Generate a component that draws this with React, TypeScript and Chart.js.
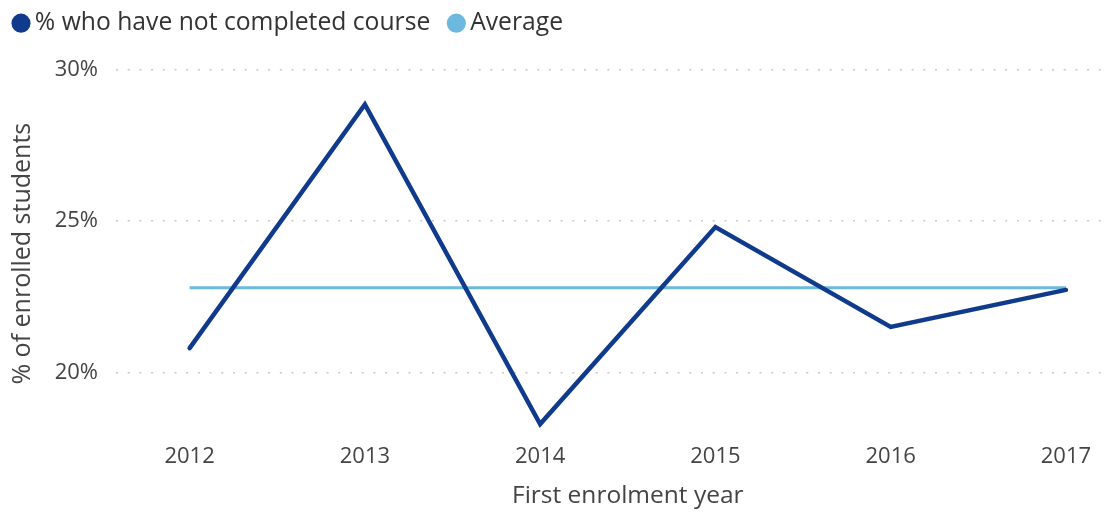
import React, { useEffect, useRef } from "react";
import { Chart, registerables } from "chart.js";

Chart.register(...registerables);

const years = [2012, 2013, 2014, 2015, 2016, 2017];
const notCompleted = [20.81, 28.84, 18.31, 24.8, 21.51, 22.73];
const averageValue = 22.8;
const yTickValues = [20, 25, 30];
const seriesLabels = ["% who have not completed course", "Average"];
const xTitle = "First enrolment year";
const yTitle = "% of enrolled students";

const FONT = "'Open Sans', 'Noto Sans', sans-serif";

export default function App() {
  const ref = useRef<HTMLCanvasElement>(null);

  useEffect(() => {
    document.body.style.margin = "0";
    const canvas = ref.current;
    if (!canvas) return;

    const layoutTweaks = {
      id: "layoutTweaks",
      beforeLayout(chart: any) {
        const lg = chart.legend;
        if (lg && !lg._spacerPatched) {
          const origFit = lg.fit.bind(lg);
          lg.fit = function () {
            origFit();
            this.height = 83;
          };
          lg._spacerPatched = true;
        }
      },
      afterLayout(chart: any) {
        const xs = chart.scales.x;
        if (xs && !xs._titlePatched) {
          const origDrawTitle = xs.drawTitle.bind(xs);
          xs.drawTitle = function () {
            const c =
              (this.getPixelForValue(years[0]) +
                this.getPixelForValue(years[years.length - 1])) /
              2;
            const d = c - (this.left + this.right) / 2;
            const l = this.left;
            const r = this.right;
            this.left = l + d;
            this.right = r + d;
            origDrawTitle();
            this.left = l;
            this.right = r;
          };
          xs._titlePatched = true;
        }
      },
    };

    const chart = new Chart(canvas, {
      type: "line",
      data: {
        datasets: [
          {
            label: seriesLabels[0],
            data: years.map((yr, i) => ({ x: yr, y: notCompleted[i] })),
            borderColor: "#103A8C",
            backgroundColor: "#103A8C",
            borderWidth: 4.5,
            borderCapStyle: "round",
            pointRadius: 0,
            pointHoverRadius: 0,
            tension: 0,
          },
          {
            label: seriesLabels[1],
            data: years.map((yr) => ({ x: yr, y: averageValue })),
            borderColor: "#6CB8DE",
            backgroundColor: "#6CB8DE",
            borderWidth: 3,
            pointRadius: 0,
            pointHoverRadius: 0,
            tension: 0,
          },
        ],
      },
      options: {
        animation: false,
        responsive: false,
        layout: { padding: { top: -13.7, left: -5, right: 4, bottom: 0 } },
        plugins: {
          tooltip: { enabled: false },
          legend: {
            display: true,
            position: "top",
            align: "start",
            labels: {
              usePointStyle: true,
              pointStyle: "circle",
              boxWidth: 3,
              boxHeight: 13.5,
              padding: 24.5,
              color: "#333333",
              font: { family: FONT, size: 24.7 },
              generateLabels: (c: any) =>
                Chart.defaults.plugins.legend.labels
                  .generateLabels(c)
                  .map((l: any) => ({ ...l, lineWidth: 0 })),
            },
          },
        },
        scales: {
          x: {
            type: "linear",
            min: 2011.58,
            max: 2017.24,
            grid: { display: false },
            border: { display: false },
            afterBuildTicks: (s: any) => {
              s.ticks = s.ticks.filter((t: any) => years.includes(t.value));
            },
            afterFit: (s: any) => {
              s.height = 75;
            },
            ticks: {
              stepSize: 1,
              includeBounds: false,
              autoSkip: false,
              maxRotation: 0,
              padding: -2,
              color: "#444444",
              font: { family: FONT, size: 22 },
              callback: (v: any) => String(v),
            },
            title: {
              display: true,
              text: xTitle,
              color: "#444444",
              font: { family: FONT, size: 24.5 },
              padding: { top: 0, bottom: 2 },
            },
          },
          y: {
            min: 17.85,
            max: 30,
            afterBuildTicks: (s: any) => {
              s.ticks = s.ticks.filter((t: any) => yTickValues.includes(t.value));
            },
            afterFit: (s: any) => {
              s.width = 121;
            },
            grid: {
              color: "#c8c8c8",
              lineWidth: 1.5,
              drawTicks: false,
            },
            border: { display: false, dash: [2, 9.7] },
            ticks: {
              stepSize: 5,
              includeBounds: false,
              padding: 18,
              color: "#444444",
              font: { family: FONT, size: 22 },
              callback: (v: any) => v + "%",
            },
            title: {
              display: true,
              text: yTitle,
              color: "#444444",
              font: { family: FONT, size: 25 },
              padding: { top: 12.5, bottom: 0 },
            },
          },
        },
      },
      plugins: [layoutTweaks],
    } as any);

    return () => chart.destroy();
  }, []);

  return (
    <canvas
      ref={ref}
      width={1112}
      height={513}
      style={{ display: "block", width: 1112, height: 513 }}
    />
  );
}
